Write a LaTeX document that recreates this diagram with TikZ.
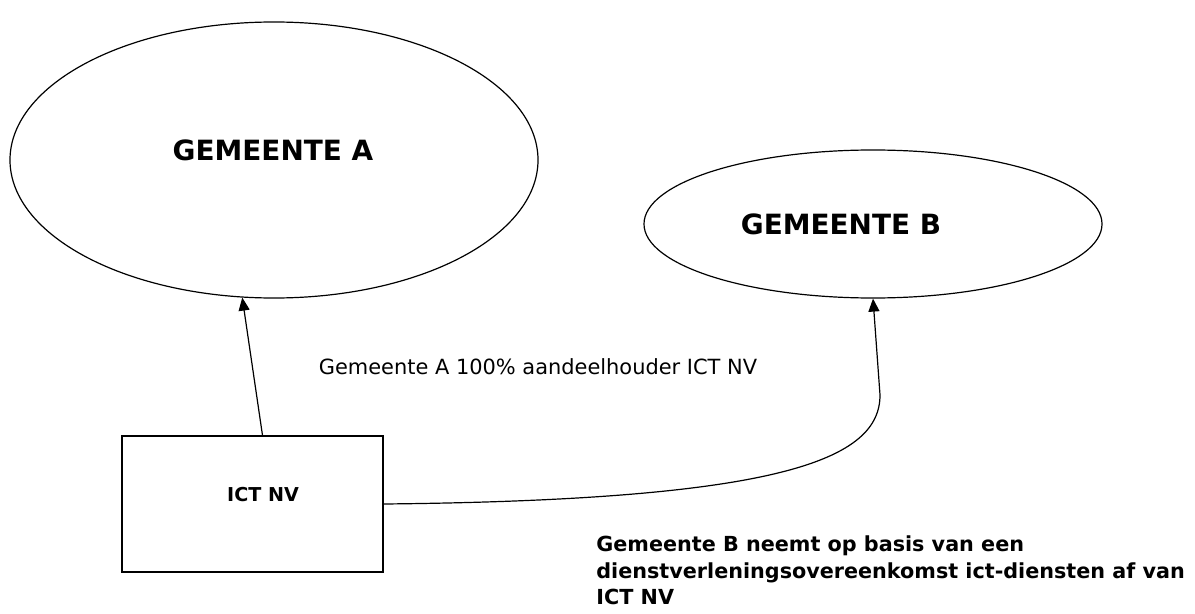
\documentclass[tikz,border=0pt]{standalone}
\usepackage{fontspec}
\setmainfont{DejaVu Sans}
\usetikzlibrary{arrows.meta,shapes.geometric}

\begin{document}
\begin{tikzpicture}[
      x=0.5bp, y=-0.5bp,
      party/.style={
        ellipse, draw, line width=0.6bp,
        inner sep=0pt
      },
      title/.style={font=\bfseries\fontsize{14}{16}\selectfont},
      firm/.style={
        rectangle, draw, line width=0.6bp,
        minimum width=130.5bp, minimum height=68bp
      },
      arr/.style={-{Triangle[length=6.5bp,width=5.5bp]}, line width=0.6bp}
    ]
      \useasboundingbox (0,0) rectangle (1195,613);
      \node[party, minimum width=264bp, minimum height=138bp] (gemA) at (274,160){};
      \node[title] at (273,150){GEMEENTE A};
      \node[party, minimum width=229bp, minimum height=74bp] (gemB) at (873,224){};
      \node[title] at (841,224){GEMEENTE B};
      \node[firm] (ict) at (252.5,504){};
      \node[font=\bfseries\fontsize{9.6}{11}\selectfont] at (263,495){ICT NV};

      \node[font=\fontsize{10.5}{12}\selectfont] (share) at (538,367){Gemeente A 100\% aandeelhouder ICT NV};
      \node[anchor=north west, inner sep=0pt, align=left,
        font=\bfseries\fontsize{10.4}{13.5}\selectfont] (deal) at (596,535)
        {Gemeente B neemt op basis van een\\
         dienstverleningsovereenkomst ict-diensten af van\\
         ICT NV};

      \draw[arr] ([xshift=5bp]ict.north) -- (gemA.257);
      \draw[arr] (ict.east) .. controls (780,500) and (880,460) .. (880,395) -- (gemB.south);
    \end{tikzpicture}
\end{document}
